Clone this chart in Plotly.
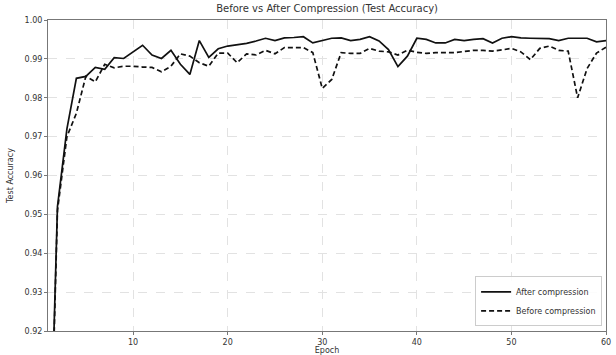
import plotly.graph_objects as go

epochs = list(range(1, 61))

after_compression = [
    0.865, 0.952, 0.972, 0.985, 0.9855, 0.9878, 0.9873, 0.9903, 0.9901, 0.9917,
    0.9935, 0.9910, 0.9901, 0.9922, 0.9886, 0.9860, 0.9947, 0.9904, 0.9926, 0.9933,
    0.9937, 0.9940, 0.9946, 0.9953, 0.9947, 0.9954, 0.9955, 0.9957, 0.9941, 0.9947,
    0.9953, 0.9954, 0.9947, 0.9950, 0.9957, 0.9946, 0.9924, 0.9880, 0.9907, 0.9953,
    0.9950, 0.9941, 0.9941, 0.9950, 0.9947, 0.9950, 0.9952, 0.9941, 0.9953, 0.9957,
    0.9954, 0.9953, 0.9952, 0.9952, 0.9947, 0.9953, 0.9953, 0.9953, 0.9944, 0.9947,
]

before_compression = [
    0.860, 0.951, 0.970, 0.976, 0.9855, 0.9841, 0.9886, 0.9877, 0.9881, 0.9881,
    0.9879, 0.9878, 0.9867, 0.9881, 0.9913, 0.9907, 0.9890, 0.9881, 0.9915, 0.9915,
    0.9890, 0.9913, 0.9910, 0.9922, 0.9913, 0.9929, 0.9929, 0.9929, 0.9916, 0.9824,
    0.9847, 0.9916, 0.9914, 0.9914, 0.9927, 0.9920, 0.9918, 0.9910, 0.9922, 0.9917,
    0.9914, 0.9916, 0.9916, 0.9916, 0.9919, 0.9922, 0.9922, 0.9920, 0.9923, 0.9927,
    0.9918, 0.9898, 0.9927, 0.9933, 0.9922, 0.9920, 0.9800, 0.9875, 0.9915, 0.9930,
]

y_ticks = [0.92, 0.93, 0.94, 0.95, 0.96, 0.97, 0.98, 0.99, 1.00]
x_ticks = [10, 20, 30, 40, 50, 60]

font_family = "DejaVu Sans, sans-serif"

fig = go.Figure()
fig.add_trace(go.Scatter(
    x=epochs, y=after_compression, mode="lines", name="After compression",
    line=dict(color="#111111", width=1.7),
))
fig.add_trace(go.Scatter(
    x=epochs, y=before_compression, mode="lines", name="Before compression",
    line=dict(color="#111111", width=1.7, dash="5px,3px"),
))

axis_common = dict(
    showline=True, linecolor="#777777", linewidth=1, mirror=True,
    ticks="outside", ticklen=3, tickcolor="#777777",
    showgrid=True, gridcolor="#e2e2e2", gridwidth=0.8, griddash="dash",
    zeroline=False, automargin=False,
    tickfont=dict(size=8, color="#333333", family=font_family),
)

fig.update_xaxes(
    range=[1, 60], tickvals=x_ticks, ticktext=[str(t) for t in x_ticks],
    title=dict(text="Epoch", font=dict(size=8, color="#333333", family=font_family), standoff=3),
    **axis_common,
)
fig.update_yaxes(
    range=[0.92, 1.00], tickvals=y_ticks, ticktext=[f"{t:.2f}" for t in y_ticks],
    title=dict(text="Test Accuracy", font=dict(size=8, color="#333333", family=font_family), standoff=9),
    **axis_common,
)

fig.update_layout(
    width=616, height=355,
    margin=dict(l=48, r=10, t=20, b=24),
    paper_bgcolor="white", plot_bgcolor="white",
    title=dict(text="Before vs After Compression (Test Accuracy)", x=0.531, xanchor="center",
               y=0.985, yanchor="top",
               font=dict(size=10, color="#333333", family=font_family)),
    showlegend=True,
    legend=dict(x=0.993, y=0.015, xanchor="right", yanchor="bottom",
                bgcolor="rgba(255,255,255,0.9)", bordercolor="#cccccc", borderwidth=1,
                font=dict(size=8, color="#333333", family=font_family),
                tracegroupgap=0, itemwidth=30),
)

fig.write_html(
    "out.html",
    config={"displayModeBar": False},
    post_script="document.body.style.margin='0';document.body.style.overflow='hidden';",
)
